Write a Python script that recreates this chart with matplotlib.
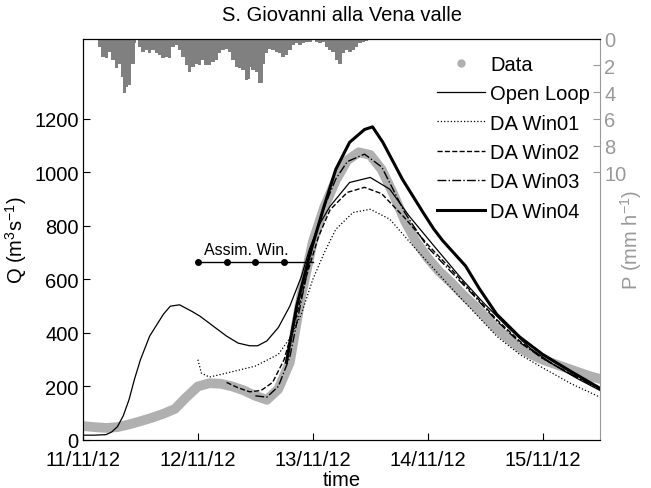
import numpy as np
import matplotlib
matplotlib.use('Agg')
import matplotlib.pyplot as plt
from matplotlib.lines import Line2D

plt.rcParams['font.family'] = ['Liberation Sans', 'DejaVu Sans']
plt.rcParams['font.size'] = 14.5
plt.rcParams['mathtext.fontset'] = 'custom'
plt.rcParams['mathtext.rm'] = 'Liberation Sans'
plt.rcParams['mathtext.it'] = 'Liberation Sans:italic'

# tempo in giorni dal 11/11/12 00:00
t_data = [0.0, 0.1, 0.2, 0.3, 0.4, 0.5, 0.6, 0.7, 0.8, 0.9, 1.0, 1.1, 1.2, 1.3, 1.4,
          1.5, 1.6, 1.7, 1.8, 1.9, 2.0, 2.1, 2.2, 2.3, 2.4, 2.5, 2.6, 2.7, 2.8, 2.9,
          3.0, 3.1, 3.2, 3.3, 3.4, 3.5, 3.6, 3.7, 3.8, 3.9, 4.0, 4.1, 4.2, 4.3, 4.4, 4.5]
q_data = [52, 48, 45, 48, 58, 70, 83, 98, 116, 160, 200, 212, 210, 200, 185,
          165, 150, 190, 290, 540, 740, 870, 970, 1045, 1075, 1065, 1010, 920, 820, 740,
          680, 630, 590, 545, 505, 460, 415, 380, 345, 320, 300, 285, 270, 255, 240, 228]

t_ol = [0.0, 0.1, 0.2, 0.25, 0.3, 0.35, 0.4, 0.45, 0.5, 0.58, 0.7, 0.76, 0.84, 0.95,
        1.02, 1.15, 1.25, 1.35, 1.45, 1.52, 1.6, 1.7, 1.8, 1.9, 1.97, 2.05, 2.15, 2.32,
        2.5, 2.67, 2.84, 3.08, 3.3, 3.48, 3.7, 3.9, 4.1, 4.3, 4.5]
q_ol = [18, 18, 20, 30, 50, 90, 150, 230, 300, 388, 470, 500, 505, 480,
        462, 420, 388, 362, 352, 352, 370, 420, 500, 610, 712, 800, 873, 962,
        981, 937, 836, 712, 600, 515, 420, 340, 280, 230, 185]

t_w1 = [1.0, 1.03, 1.1, 1.25, 1.5, 1.7, 1.8, 1.9, 2.0, 2.1, 2.2, 2.35, 2.5, 2.67,
        2.9, 3.19, 3.6, 3.8, 4.0, 4.25, 4.5]
q_w1 = [300, 250, 235, 250, 276, 320, 380, 470, 600, 700, 787, 850, 862, 825,
        712, 575, 388, 320, 270, 210, 160]

t_w2 = [1.25, 1.35, 1.45, 1.55, 1.65, 1.75, 1.85, 1.95, 2.05, 2.15, 2.3, 2.45, 2.6,
        2.8, 3.0, 3.2, 3.4, 3.6, 3.8, 4.0, 4.25, 4.5]
q_w2 = [215, 195, 180, 185, 215, 300, 450, 620, 760, 860, 925, 944, 920,
        830, 730, 640, 545, 450, 370, 305, 245, 195]

t_w3 = [1.5, 1.6, 1.7, 1.8, 1.9, 2.0, 2.1, 2.2, 2.3, 2.45, 2.6, 2.8, 3.0, 3.2, 3.4,
        3.6, 3.8, 4.0, 4.25, 4.5]
q_w3 = [165, 160, 200, 310, 520, 730, 870, 975, 1040, 1068, 1020, 850, 720, 630, 540,
        445, 365, 305, 245, 190]

t_w4 = [1.77, 1.86, 1.97, 2.09, 2.2, 2.32, 2.45, 2.52, 2.61, 2.78, 2.96, 3.05, 3.13,
        3.33, 3.45, 3.6, 3.8, 4.0, 4.25, 4.5]
q_w4 = [290, 500, 687, 862, 1011, 1112, 1160, 1170, 1112, 974, 850, 790, 745,
        650, 565, 470, 385, 320, 255, 193]

# pioggia (mm/h)
t_rain = [0.13, 0.145, 0.174, 0.203, 0.232, 0.261, 0.29, 0.319, 0.348, 0.362, 0.377,
          0.391, 0.406, 0.435, 0.449, 0.464, 0.493, 0.522, 0.551, 0.58, 0.609, 0.623,
          0.638, 0.667, 0.696, 0.725, 0.754, 0.783, 0.812, 0.841, 0.87, 0.899, 0.928,
          0.957, 0.986, 1.014, 1.043, 1.072, 1.101, 1.13, 1.159, 1.188, 1.217, 1.246,
          1.275, 1.307, 1.336, 1.365, 1.394, 1.423, 1.438, 1.452, 1.481, 1.51, 1.539,
          1.553, 1.568, 1.597, 1.626, 1.655, 1.684, 1.713, 1.742, 1.771, 1.8, 1.829,
          1.858, 1.887, 1.916, 1.945, 1.974, 2.003, 2.032, 2.061, 2.09, 2.119, 2.148,
          2.177, 2.206, 2.235, 2.264, 2.293, 2.322, 2.351, 2.38, 2.409, 2.438, 2.467,
          2.496, 2.525, 2.554]
p_rain = [0.12, 0.6, 1.37, 1.49, 1.0, 1.62, 2.24, 1.87, 2.86, 4.1, 3.6,
          2.36, 3.48, 1.87, 0.37, 0.12, 0.62, 1.0, 0.87, 1.12, 0.87, 0.62,
          1.12, 1.24, 1.49, 1.37, 1.49, 0.62, 0.5, 0.87, 1.37, 1.99, 2.49,
          2.11, 1.87, 1.99, 1.62, 1.99, 1.99, 1.74, 1.62, 1.12, 0.87, 0.75,
          1.0, 1.62, 2.11, 2.24, 2.36, 3.11, 2.99, 2.11, 2.36, 2.49, 3.36,
          3.36, 1.87, 1.12, 0.75, 0.87, 1.0, 1.12, 1.37, 1.24, 0.87, 0.5,
          0.37, 0.5, 0.32, 0.25, 0.25, 0.12, 0.25, 0.37, 0.25, 0.62, 0.87,
          0.99, 1.62, 1.87, 1.12, 0.87, 0.99, 0.87, 0.62, 0.37, 0.25, 0.17,
          0.12, 0.07, 0.07]

win_t = [1.0, 1.25, 1.5, 1.75]
win_end = 2.0
win_q = 665

xticks = [0, 1, 2, 3, 4]
xlabels = ['11/11/12', '12/11/12', '13/11/12', '14/11/12', '15/11/12']

grigio = '#b0b0b0'
grigio_asse = '#999999'

fig = plt.figure(figsize=(6.51, 4.89), dpi=100)
ax = fig.add_axes([0.1275, 0.0982, 0.7942, 0.821])
ax2 = ax.twinx()

ax2.bar(t_rain, p_rain, width=0.03, color='#808080', align='center', linewidth=0)
ax2.set_ylim(30, 0)
ax2.set_yticks([0, 2, 4, 6, 8, 10])
ax2.set_ylabel(r'P (mm h$^{-1}$)', color=grigio_asse)
ax2.yaxis.set_label_coords(1.035, 0.5)
ax2.tick_params(axis='y', direction='in', colors=grigio_asse, labelsize=14.5, length=5, pad=3)
ax2.spines['right'].set_color(grigio_asse)
ax2.spines['top'].set_color('black')

ax.set_zorder(ax2.get_zorder() + 1)
ax.patch.set_visible(False)

ax.plot(t_data, q_data, '-', color=grigio, linewidth=7, solid_capstyle='round',
        solid_joinstyle='round')
ax.plot(t_ol, q_ol, '-', color='black', linewidth=0.9)
ax.plot(t_w1, q_w1, ':', color='black', linewidth=0.9)
ax.plot(t_w2, q_w2, '--', color='black', linewidth=1.0)
ax.plot(t_w3, q_w3, '-.', color='black', linewidth=1.0)
ax.plot(t_w4, q_w4, '-', color='black', linewidth=2.2)

ax.plot([win_t[0], win_end], [win_q, win_q], '-', color='black', linewidth=1.0)
ax.plot(win_t, [win_q] * len(win_t), 'o', color='black', markersize=4)
ax.text(1.42, win_q + 18, 'Assim. Win.', ha='center', va='bottom', fontsize=11.5)

ax.set_xlim(0, 4.5)
ax.set_ylim(0, 1500)
ax.set_yticks([0, 200, 400, 600, 800, 1000, 1200])
ax.set_xticks(xticks)
ax.set_xticklabels(xlabels)
ax.tick_params(direction='in', length=5, labelsize=14.5, pad=3)
ax.tick_params(axis='x', pad=7)
ax.set_xlabel('time', labelpad=1)
ax.set_ylabel(r'Q (m$^3$s$^{-1}$)', labelpad=4)
ax.set_title('S. Giovanni alla Vena valle', fontsize=14.5, pad=13)
for s in ['left', 'bottom']:
    ax.spines[s].set_color('black')
ax.spines['right'].set_visible(False)

handles = [
    Line2D([], [], marker='o', linestyle='none', color=grigio, markersize=5),
    Line2D([], [], color='black', linewidth=0.9),
    Line2D([], [], color='black', linestyle=':', linewidth=0.9),
    Line2D([], [], color='black', linestyle='--', linewidth=1.0),
    Line2D([], [], color='black', linestyle='-.', linewidth=1.0),
    Line2D([], [], color='black', linewidth=2.2),
]
labels = ['Data', 'Open Loop', 'DA Win01', 'DA Win02', 'DA Win03', 'DA Win04']
ax.legend(handles, labels, loc='upper right', frameon=False, handlelength=2.4,
          handletextpad=0.25, labelspacing=0.52, borderaxespad=0.1,
          bbox_to_anchor=(1.0, 0.985))

fig.savefig('out.png', dpi=100)
